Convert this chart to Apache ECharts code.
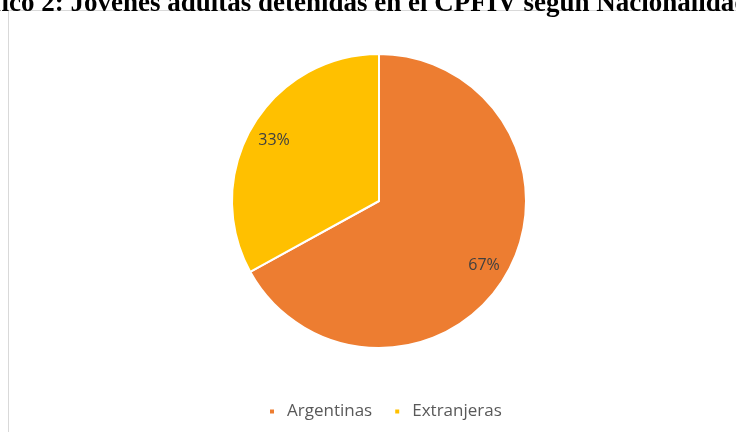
<!DOCTYPE html>
<html><head><meta charset="utf-8">
<script src="https://cdn.jsdelivr.net/npm/echarts@6/dist/echarts.min.js"></script>
<style>html,body{margin:0;padding:0;background:#fff}#c{width:736px;height:432px}</style>
</head><body><div id="c"></div>
<script>
const titleText = 'Gráfico 2: Jóvenes adultas detenidas en el CPFIV según Nacionalidad';
const categories = ['Argentinas', 'Extranjeras'];
const values = [67, 33];
const colors = ['#ED7D31', '#FFC000'];

const data = categories.map((c, i) => ({ name: c, value: values[i] }));
const chart = echarts.init(document.getElementById('c'));
chart.setOption({
  animation: false,
  color: colors,
  graphic: [
    { type: 'rect', shape: { x: 8.5, y: 10.5, width: 800, height: 500 }, style: { fill: '#fff', stroke: '#d9d9d9', lineWidth: 1 }, z: -10 },
    { type: 'text', left: -54, top: -9, style: { text: titleText, font: 'bold 27px "Liberation Serif"', fill: '#000' } }
  ],
  legend: {
    data: categories,
    bottom: 7,
    left: 263,
    icon: 'rect',
    itemWidth: 6, itemHeight: 6, itemGap: 21,
    textStyle: { color: '#595959', fontSize: 17, fontFamily: 'Open Sans', padding: [0, 0, 0, 7] }
  },
  series: [
    {
      type: 'pie',
      center: [379, 201],
      radius: [0, 147],
      startAngle: 90,
      clockwise: true,
      data: data,
      label: { show: false },
      labelLine: { show: false },
      itemStyle: { borderColor: '#fff', borderWidth: 2 },
      emphasis: { disabled: true }
    },
    {
      type: 'pie',
      center: [379, 203],
      radius: [0, 238],
      startAngle: 90,
      clockwise: true,
      silent: true,
      data: data,
      itemStyle: { color: 'rgba(0,0,0,0)', borderWidth: 0 },
      label: { show: true, position: 'inside', formatter: '{c}%', color: '#404040', fontSize: 16, fontFamily: 'Open Sans' },
      labelLine: { show: false },
      emphasis: { disabled: true },
      z: 5
    }
  ]
});
</script></body></html>
